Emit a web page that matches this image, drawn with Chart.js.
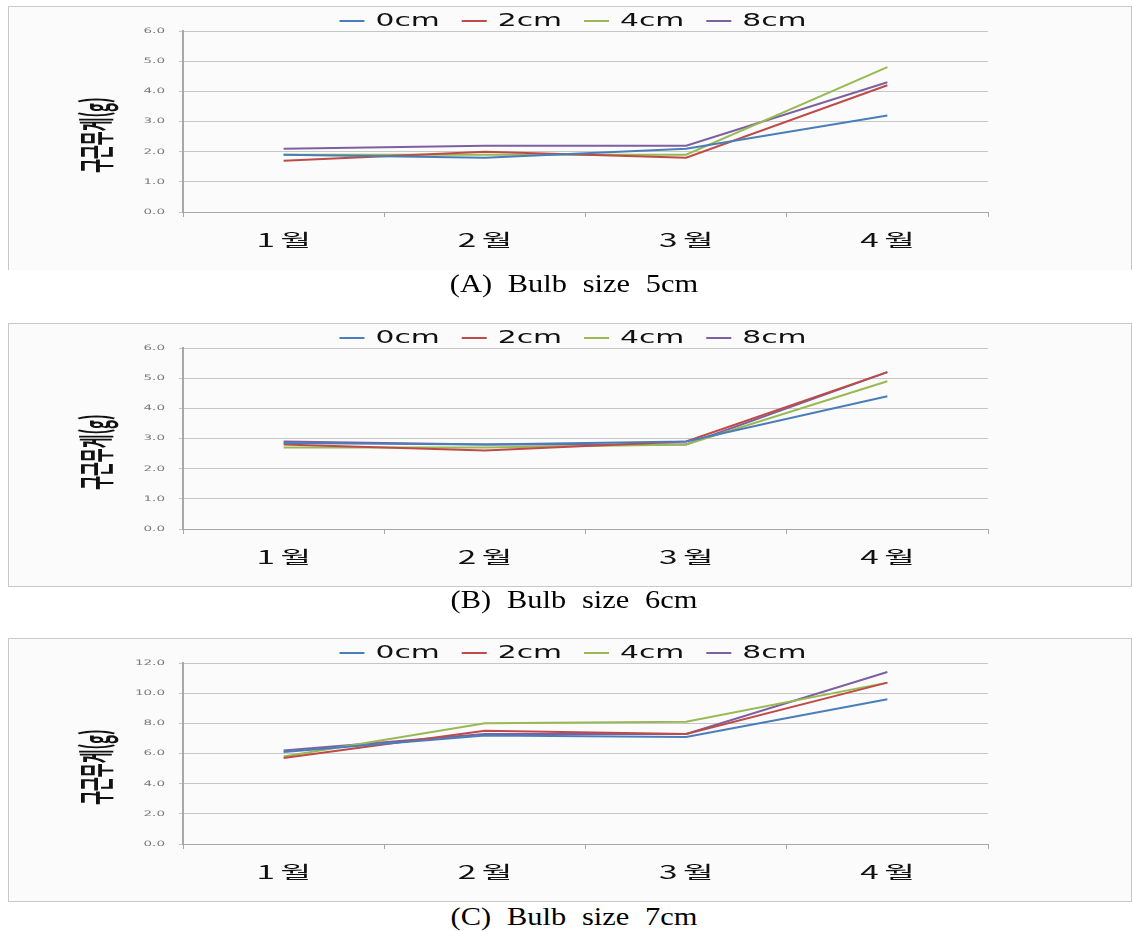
<!DOCTYPE html>
<html lang="ko">
<head>
<meta charset="utf-8">
<title>구근무게</title>
<script src="https://cdn.jsdelivr.net/npm/chart.js@4.4.1/dist/chart.umd.min.js"></script>
<style>
    body {
        margin: 0;
        background: #ffffff;
        width: 1133px;
        height: 931px;
        position: relative;
        overflow: hidden;
    }
    .panel {
        position: absolute;
        left: 8px;
        width: 1124px;
        height: 264px;
        background: #fbfbfb;
        border: 1px solid #c8c8c8;
        box-sizing: border-box;
    }
    .panel canvas {
        position: absolute;
        left: -1px;
        top: -1px;
    }
    #panelA { top: 6px; border-bottom: none; }
    #panelB { top: 323px; }
    #panelC { top: 638px; }
    .caption {
        position: absolute;
        left: 0;
        width: 1148px;
        text-align: center;
        font-family: 'Liberation Serif', serif;
        font-size: 26px;
        line-height: 30px;
        word-spacing: 7px;
        color: #000000;
        transform: scaleX(1.17);
        transform-origin: 50% 0;
    }
</style>
</head>
<body>
<div class="panel" id="panelA"><canvas id="chartA" width="1124" height="264"></canvas></div>
<div class="caption" style="top:269px">(A) Bulb size 5cm</div>
<div class="panel" id="panelB"><canvas id="chartB" width="1124" height="264"></canvas></div>
<div class="caption" style="top:585px">(B) Bulb size 6cm</div>
<div class="panel" id="panelC"><canvas id="chartC" width="1124" height="264"></canvas></div>
<div class="caption" style="top:902px">(C) Bulb size 7cm</div>

<script>
// Categories and series
const MONTHS = ['1월', '2월', '3월', '4월'];
const DEPTHS = ['0cm', '2cm', '4cm', '8cm'];
const Y_TITLE = '구근무게(g)';

const Y_LABELS_6 = ['0.0', '1.0', '2.0', '3.0', '4.0', '5.0', '6.0'];
const Y_LABELS_12 = ['0.0', '2.0', '4.0', '6.0', '8.0', '10.0', '12.0'];

// Bulb size 5cm
const A_0CM = [1.9, 1.8, 2.1, 3.2];
const A_2CM = [1.7, 2.0, 1.8, 4.2];
const A_4CM = [1.9, 1.9, 1.9, 4.8];
const A_8CM = [2.1, 2.2, 2.2, 4.3];

// Bulb size 6cm
const B_0CM = [2.85, 2.8, 2.9, 4.4];
const B_2CM = [2.8, 2.6, 2.9, 5.2];
const B_4CM = [2.7, 2.7, 2.8, 4.9];
const B_8CM = [2.9, 2.8, 2.8, 5.2];

// Bulb size 7cm
const C_0CM = [6.1, 7.2, 7.1, 9.6];
const C_2CM = [5.7, 7.5, 7.3, 10.7];
const C_4CM = [5.8, 8.0, 8.1, 10.7];
const C_8CM = [6.2, 7.3, 7.3, 11.4];

const COLORS = {
    lines: ['#4a7ebb', '#be4b48', '#98b954', '#7d60a0'],
    grid: '#c6c6c6',
    axis: '#a8a8a8',
    tickText: '#7a7a7a',
    text: '#111111'
};

// Text in this chart is drawn wide, so draw it with a horizontal stretch
function wideText(ctx, text, x, y, stretch) {
    ctx.save();
    ctx.translate(x, y);
    ctx.scale(stretch, 1);
    ctx.fillText(text, 0, 0);
    ctx.restore();
}

const wideTextPlugin = {
    id: 'wideText',
    afterDraw(chart) {
        const ctx = chart.ctx;
        const area = chart.chartArea;
        const xScale = chart.scales.x;
        const yScale = chart.scales.y;

        ctx.save();
        ctx.textBaseline = 'middle';

        // y tick labels
        ctx.fillStyle = COLORS.tickText;
        ctx.font = '7.5px "DejaVu Sans"';
        ctx.textAlign = 'right';
        yScale.ticks.forEach((tick) => {
            wideText(ctx, tick.label, area.left - 18, yScale.getPixelForValue(tick.value), 1.8);
        });

        // month labels
        ctx.fillStyle = COLORS.text;
        ctx.font = '18px "Noto Sans CJK KR"';
        ctx.textAlign = 'center';
        ctx.letterSpacing = '3px';
        chart.data.labels.forEach((label, i) => {
            wideText(ctx, label, xScale.getPixelForValue(i) + 3, area.bottom + 28, 1.85);
        });
        ctx.letterSpacing = '0px';

        // y axis title, reads bottom to top
        ctx.save();
        ctx.font = 'bold 15px "Noto Sans CJK KR"';
        ctx.translate(88, area.top + 104);
        ctx.rotate(-Math.PI / 2);
        ctx.scale(1, 2.4);
        ctx.fillText(Y_TITLE, 0, 0);
        ctx.restore();

        // legend
        const lineLen = 25;
        const gap = 11;
        const spacing = 22;
        const stretch = 1.75;
        ctx.font = '17px "DejaVu Sans"';
        ctx.textAlign = 'left';
        const items = chart.data.datasets.map((ds) => ({
            label: ds.label,
            color: ds.borderColor,
            width: lineLen + gap + ctx.measureText(ds.label).width * stretch
        }));
        const total = items.reduce((sum, it) => sum + it.width, 0) + spacing * (items.length - 1);
        let x = chart.width / 2 + 3 - total / 2;
        const y = 15;
        items.forEach((it) => {
            ctx.strokeStyle = it.color;
            ctx.lineWidth = 2;
            ctx.beginPath();
            ctx.moveTo(x, y);
            ctx.lineTo(x + lineLen, y);
            ctx.stroke();
            wideText(ctx, it.label, x + lineLen + gap, y + 1, stretch);
            x += it.width + spacing;
        });

        ctx.restore();
    }
};

function buildChart(id, series, yLabels) {
    const ctx = document.getElementById(id).getContext('2d');
    return new Chart(ctx, {
        type: 'line',
        data: {
            labels: MONTHS,
            datasets: series.map((values, i) => ({
                label: DEPTHS[i],
                data: values,
                borderColor: COLORS.lines[i],
                borderWidth: 2,
                pointRadius: 0,
                tension: 0,
                fill: false
            }))
        },
        options: {
            responsive: false,
            animation: false,
            devicePixelRatio: 1,
            layout: { padding: { top: 25, right: 144, left: 0, bottom: 0 } },
            plugins: {
                legend: { display: false },
                tooltip: { enabled: false }
            },
            scales: {
                x: {
                    offset: true,
                    grid: {
                        offset: true,
                        drawOnChartArea: false,
                        drawTicks: true,
                        tickLength: 5,
                        color: COLORS.axis
                    },
                    border: { color: COLORS.axis, width: 1 },
                    ticks: { display: false },
                    afterFit: (scale) => { scale.height = 58; }
                },
                y: {
                    min: 0,
                    max: Number(yLabels[yLabels.length - 1]),
                    afterBuildTicks: (scale) => {
                        scale.ticks = yLabels.map((l) => ({ value: Number(l) }));
                    },
                    grid: { color: COLORS.grid, tickLength: 4 },
                    border: { color: COLORS.axis, width: 2 },
                    ticks: {
                        display: false,
                        callback: (value) => yLabels.find((l) => Number(l) === value)
                    },
                    afterFit: (scale) => { scale.width = 175; }
                }
            }
        },
        plugins: [wideTextPlugin]
    });
}

document.addEventListener('DOMContentLoaded', () => {
    buildChart('chartA', [A_0CM, A_2CM, A_4CM, A_8CM], Y_LABELS_6);
    buildChart('chartB', [B_0CM, B_2CM, B_4CM, B_8CM], Y_LABELS_6);
    buildChart('chartC', [C_0CM, C_2CM, C_4CM, C_8CM], Y_LABELS_12);
});
</script>
</body>
</html>
